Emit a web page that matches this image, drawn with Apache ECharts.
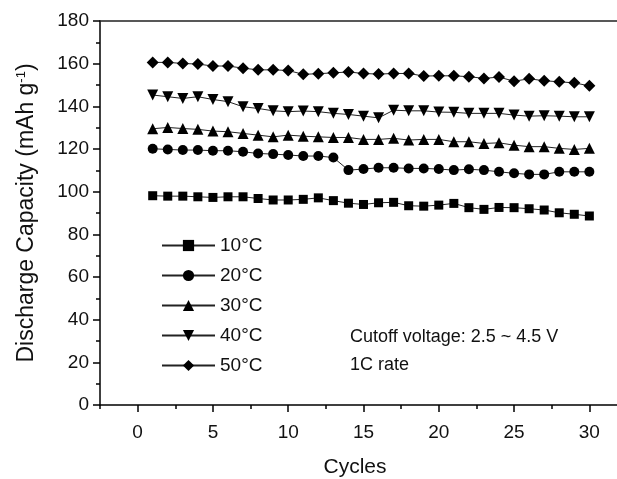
<!DOCTYPE html>
<html>
<head>
<meta charset="utf-8">
<script src="https://cdn.jsdelivr.net/npm/echarts@6/dist/echarts.min.js"></script>
<style>
  html, body { margin: 0; padding: 0; background: #fff; }
  #chart { width: 617px; height: 479px; }
</style>
</head>
<body>
<div id="chart"></div>
<script>
// cycles 1..30
var cycles = [];
for (var i = 1; i <= 30; i++) cycles.push(i);

var cap10 = [98.1, 97.9, 97.9, 97.6, 97.3, 97.6, 97.6, 96.8, 96.1, 96.1,
             96.4, 97.1, 95.8, 94.6, 94.0, 94.8, 95.0, 93.4, 93.2, 93.7,
             94.5, 92.5, 91.7, 92.6, 92.5, 92.0, 91.4, 90.1, 89.4, 88.6];
var cap20 = [120.1, 119.8, 119.5, 119.5, 119.2, 119.2, 118.7, 117.9, 117.6, 117.2,
             116.7, 116.7, 116.0, 110.1, 110.6, 111.2, 111.2, 110.9, 110.9, 110.6,
             110.1, 110.5, 110.1, 109.3, 108.6, 108.1, 108.1, 109.3, 109.3, 109.3];
var cap30 = [129.5, 130.1, 129.6, 129.2, 128.4, 128.1, 127.3, 126.5, 125.7, 126.5,
             126.0, 125.7, 125.4, 125.4, 124.5, 124.5, 125.0, 124.2, 124.5, 124.5,
             123.4, 123.4, 122.6, 122.9, 121.8, 121.1, 121.1, 120.3, 119.8, 120.3];
var cap40 = [145.3, 144.5, 143.7, 144.5, 143.2, 142.2, 139.8, 139.0, 137.9, 137.5,
             137.8, 137.5, 136.7, 136.2, 135.4, 134.6, 138.2, 137.9, 137.9, 137.3,
             137.2, 136.7, 136.7, 136.7, 135.9, 135.4, 135.6, 135.4, 135.1, 135.1];
var cap50 = [160.6, 160.6, 160.1, 159.8, 158.9, 158.9, 157.9, 157.1, 157.1, 156.8,
             155.0, 155.3, 155.7, 156.1, 155.4, 155.1, 155.4, 155.4, 154.2, 154.3,
             154.3, 153.9, 153.1, 153.7, 151.8, 152.9, 152.0, 151.5, 151.0, 149.6];

var names = ['10°C', '20°C', '30°C', '40°C', '50°C'];
var symbols = ['rect', 'circle', 'triangle', 'triangle', 'diamond'];
var sizes = [9, 10, 11, 11, 12];
var rotates = [0, 0, 0, 180, 0];
var allData = [cap10, cap20, cap30, cap40, cap50];

var font = 'Liberation Sans, Arial, sans-serif';
var chart = echarts.init(document.getElementById('chart'));

function pairs(arr) {
  return arr.map(function (v, k) { return [cycles[k], v]; });
}

var series = allData.map(function (d, k) {
  return {
    name: names[k],
    type: 'line',
    data: pairs(d),
    symbol: symbols[k],
    symbolSize: sizes[k],
    symbolRotate: rotates[k],
    showAllSymbol: true,
    lineStyle: { color: '#222', width: 1 },
    itemStyle: { color: '#000' },
    emphasis: { disabled: true },
    animation: false
  };
});

var option = {
  backgroundColor: '#fff',
  animation: false,
  grid: { left: 100, right: -10, top: 21, bottom: 74, containLabel: false, outerBoundsMode: 'none' },
  legend: {
    data: names,
    orient: 'vertical',
    left: 161,
    top: 235,
    padding: 0,
    itemWidth: 53,
    itemHeight: 14,
    itemGap: 9,
    textStyle: { fontFamily: font, fontSize: 19, color: '#111', lineHeight: 21 },
    selectedMode: false
  },
  xAxis: [
    {
      type: 'value', min: -2.5, max: 32.5, interval: 5, position: 'bottom',
      axisLine: { onZero: false, lineStyle: { color: '#000', width: 1.5 } },
      axisTick: { show: true, length: 4, lineStyle: { color: '#000', width: 1.5 } },
      minorTick: { show: true, splitNumber: 2, length: 7, lineStyle: { color: '#000', width: 1.5 } },
      axisLabel: { show: false },
      splitLine: { show: false }
    },
    {
      type: 'value', min: -2.5, max: 32.5, interval: 2.5, position: 'bottom',
      axisLine: { show: false, onZero: false },
      axisTick: { show: false },
      axisLabel: {
        margin: 18, fontFamily: font, fontSize: 19, color: '#111',
        formatter: function (v) { return Math.abs(v % 5) < 1e-6 ? String(Math.round(v)) : ''; }
      },
      splitLine: { show: false },
      name: 'Cycles',
      nameLocation: 'middle',
      nameGap: 52,
      nameTextStyle: { fontFamily: font, fontSize: 21, color: '#111', padding: [0, 17, 0, 0] }
    },
    {
      type: 'value', min: -2.5, max: 32.5, position: 'top',
      axisLine: { onZero: false, lineStyle: { color: '#222', width: 1.5 } },
      axisTick: { show: false },
      axisLabel: { show: false },
      splitLine: { show: false }
    }
  ],
  yAxis: {
    type: 'value', min: 0, max: 180, interval: 20,
    axisLine: { show: true, onZero: false, lineStyle: { color: '#000', width: 1.5 } },
    axisTick: { show: true, length: 7, lineStyle: { color: '#000', width: 1.5 } },
    minorTick: { show: true, splitNumber: 2, length: 4, lineStyle: { color: '#000', width: 1.5 } },
    axisLabel: { margin: 11, fontFamily: font, fontSize: 19, color: '#111' },
    splitLine: { show: false },
    name: 'Discharge Capacity (mAh g{sup|-1})',
    nameLocation: 'middle',
    nameGap: 62,
    nameRotate: 90,
    nameTextStyle: {
      fontFamily: font, fontSize: 23, color: '#111',
      rich: { sup: { fontFamily: font, fontSize: 13, color: '#111', verticalAlign: 'top', lineHeight: 15 } }
    }
  },
  graphic: [
    { type: 'text', left: 350, top: 328, style: { text: 'Cutoff voltage: 2.5 ~ 4.5 V', font: '18px ' + font, fill: '#111' } },
    { type: 'text', left: 350, top: 356, style: { text: '1C rate', font: '18px ' + font, fill: '#111' } }
  ],
  series: series
};

chart.setOption(option);
</script>
</body>
</html>
